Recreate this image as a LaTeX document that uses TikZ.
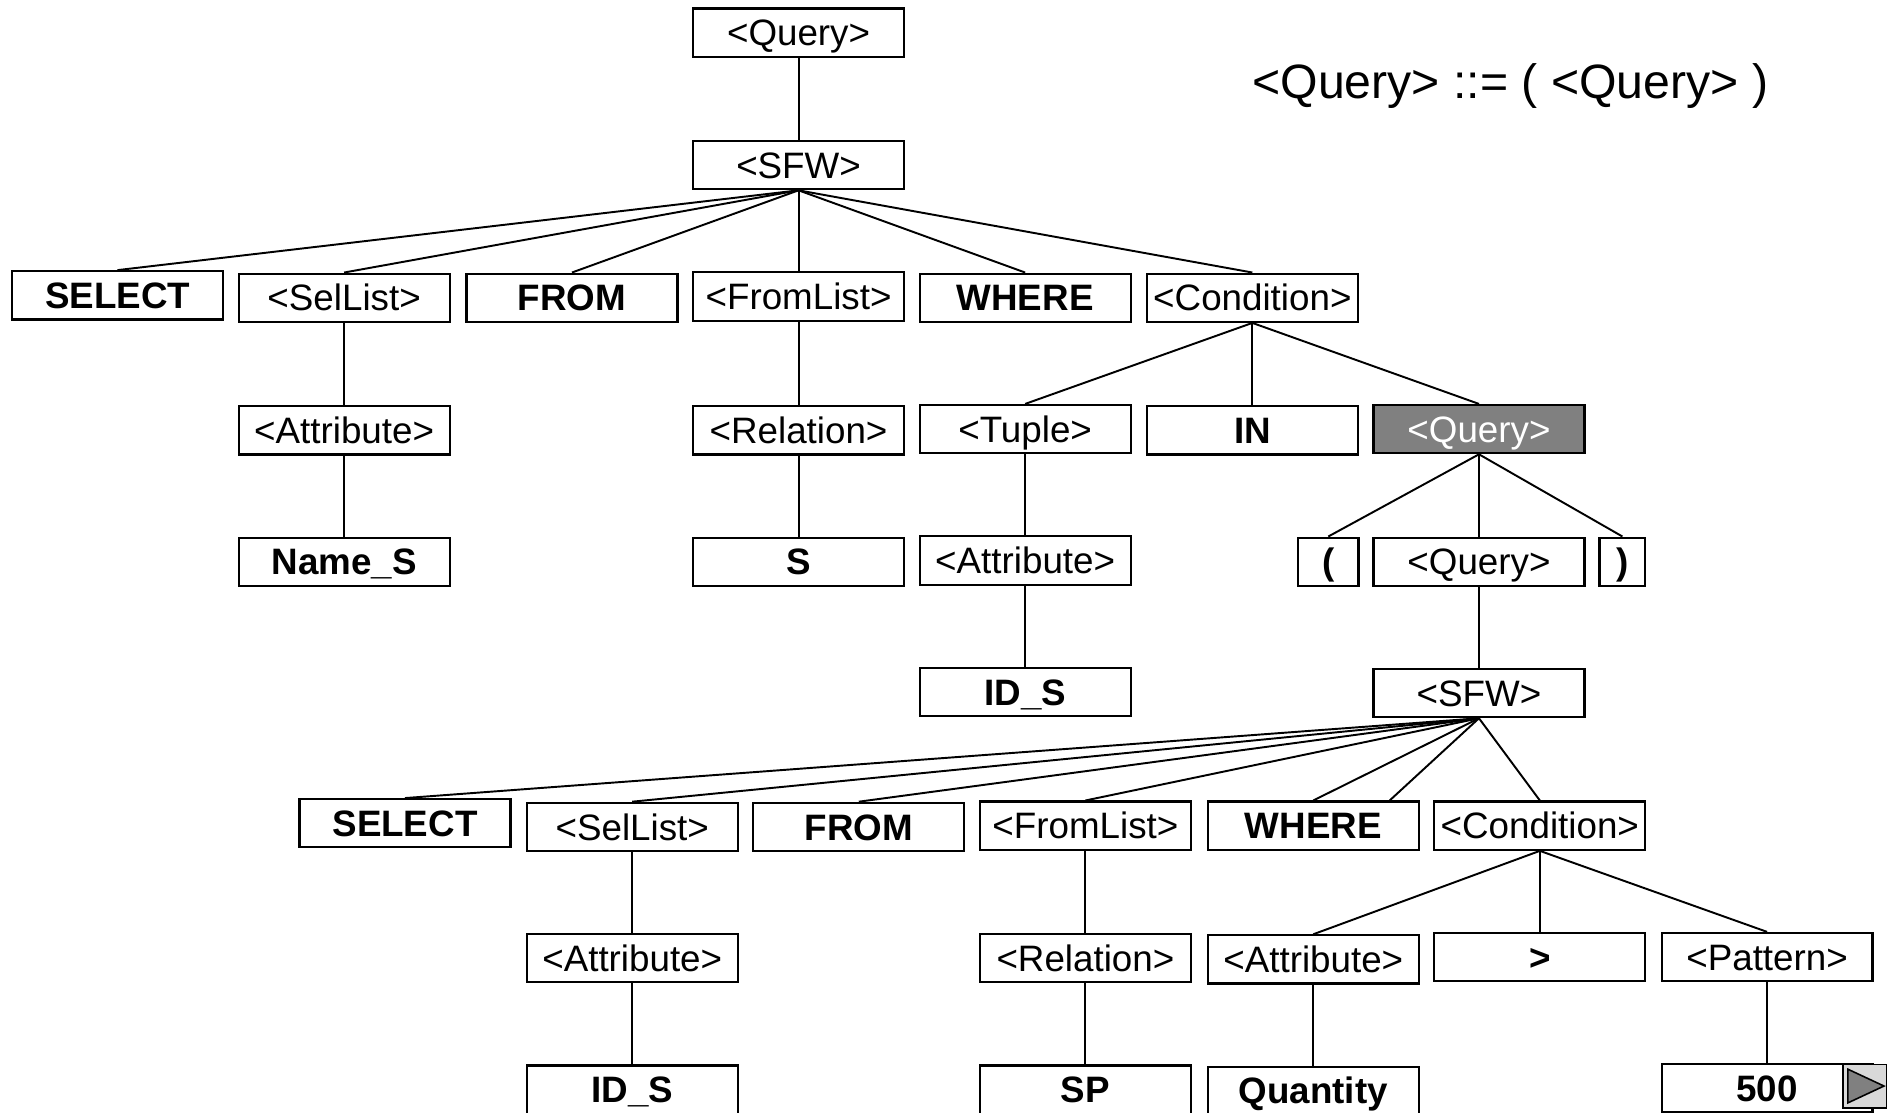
\documentclass[tikz,border=0pt]{standalone}
\usepackage{fontspec}
\setmainfont{Liberation Sans}
\begin{document}
\begin{tikzpicture}[x=1pt,y=-1pt,
  tbox/.style={draw=black,line width=1.8pt,fill=white,minimum width=175pt,minimum height=40pt,
    inner sep=0pt,text height=21.8pt,text depth=0pt,
    font=\fontsize{30.5}{36}\selectfont},
  kw/.style={tbox,font=\fontsize{30.5}{36}\selectfont\bfseries},
  hl/.style={tbox,fill=gray,text=white},
  edge/.style={line width=1.6pt,black}]
\useasboundingbox (0,0) rectangle (1568,923);
\clip (0,0) rectangle (1568,923);

% grammar rule
\node[font=\fontsize{40}{48}\selectfont,inner sep=0pt] (rule) at (1253,71) {<Query> ::= ( <Query> )};

% outer query
\node[tbox] (q1) at (662.5,27) {<Query>};
\node[tbox] (sfw1) at (662.5,137) {<SFW>};
\node[kw] (sel1) at (97.5,245) {SELECT};
\node[tbox] (sl1) at (285.5,247) {<SelList>};
\node[kw] (from1) at (474.5,247) {FROM};
\node[tbox] (fl1) at (662.5,246) {<FromList>};
\node[kw] (wh1) at (850.5,247) {WHERE};
\node[tbox] (cond1) at (1039,247) {<Condition>};
\node[tbox] (att1) at (285.5,357) {<Attribute>};
\node[tbox] (rel1) at (662.5,357) {<Relation>};
\node[tbox] (tup) at (850.5,356) {<Tuple>};
\node[kw] (in) at (1039,357) {IN};
\node[hl] (qg) at (1227,356) {<Query>};
\node[kw] (name) at (285.5,466) {Name\_S};
\node[kw] (s) at (662.5,466) {S};
\node[tbox] (att2) at (850.5,465) {<Attribute>};
\node[kw,minimum width=50pt] (lp) at (1102,466) {(};
\node[tbox] (q2) at (1227,466) {<Query>};
\node[kw,minimum width=38pt] (rp) at (1346,466) {)};
\node[kw] (ids1) at (850.5,574) {ID\_S};

% inner query
\node[tbox] (sfw2) at (1227,575) {<SFW>};
\node[kw] (sel2) at (336,683) {SELECT};
\node[tbox] (sl2) at (524.5,686) {<SelList>};
\node[kw] (from2) at (712.5,686) {FROM};
\node[tbox] (fl2) at (900.5,685) {<FromList>};
\node[kw] (wh2) at (1089.5,685) {WHERE};
\node[tbox] (cond2) at (1277.5,685) {<Condition>};
\node[tbox] (att3) at (524.5,795) {<Attribute>};
\node[tbox] (rel2) at (900.5,795) {<Relation>};
\node[tbox] (att4) at (1089.5,796) {<Attribute>};
\node[kw] (gt) at (1277.5,794) {>};
\node[tbox] (pat) at (1466,794) {<Pattern>};
\node[kw] (ids2) at (524.5,904) {ID\_S};
\node[kw] (sp) at (900.5,904) {SP};
\node[kw] (qty) at (1089.5,905) {Quantity};
\node[kw] (five) at (1466,903) {500};

% slide-show button
\node[draw=black,line width=1.3pt,fill=black!15,minimum size=36pt,inner sep=0pt] (btn) at (1547,901) {};
\fill[gray,draw=black,line width=1.3pt] (1533,887) -- (1563,901) -- (1533,915) -- cycle;

% connectors
\draw[edge] (q1.south) -- (sfw1.north);
\foreach \c in {sel1,sl1,from1,fl1,wh1,cond1} \draw[edge] (sfw1.south) -- (\c.north);
\draw[edge] (sl1.south) -- (att1.north);
\draw[edge] (att1.south) -- (name.north);
\draw[edge] (fl1.south) -- (rel1.north);
\draw[edge] (rel1.south) -- (s.north);
\foreach \c in {tup,in,qg} \draw[edge] (cond1.south) -- (\c.north);
\draw[edge] (tup.south) -- (att2.north);
\draw[edge] (att2.south) -- (ids1.north);
\foreach \c in {lp,q2,rp} \draw[edge] (qg.south) -- (\c.north);
\draw[edge] (q2.south) -- (sfw2.north);
\foreach \c in {sel2,sl2,from2,fl2,wh2,cond2} \draw[edge] (sfw2.south) -- (\c.north);
\draw[edge] (sfw2.south) -- ([xshift=-25pt]wh2.north east);
\draw[edge] (sl2.south) -- (att3.north);
\draw[edge] (att3.south) -- (ids2.north);
\draw[edge] (fl2.south) -- (rel2.north);
\draw[edge] (rel2.south) -- (sp.north);
\foreach \c in {att4,gt,pat} \draw[edge] (cond2.south) -- (\c.north);
\draw[edge] (att4.south) -- (qty.north);
\draw[edge] (pat.south) -- (five.north);
\end{tikzpicture}
\end{document}
